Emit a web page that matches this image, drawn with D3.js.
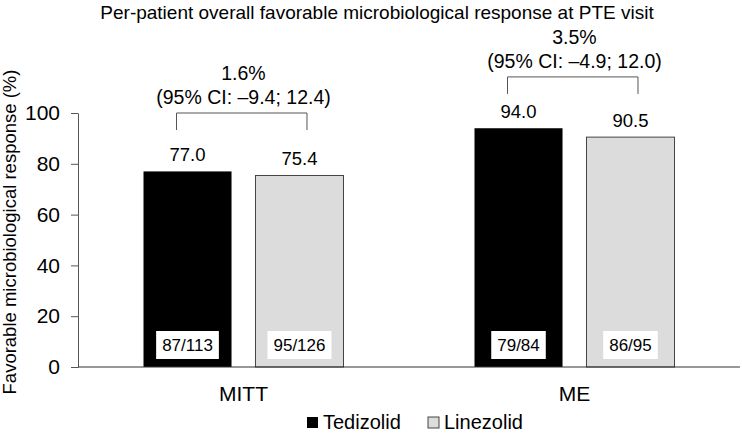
<!DOCTYPE html>
<html>
<head>
<meta charset="utf-8">
<script src="https://cdn.jsdelivr.net/npm/d3@7"></script>
<style>
  html, body { margin: 0; padding: 0; background: #fff; }
  svg { display: block; font-family: "Liberation Sans", Arial, sans-serif; }
</style>
</head>
<body>
<svg id="chart" width="742" height="433"></svg>
<script>
// ---- data ----
const categories = ["MITT", "ME"];
const seriesNames = ["Tedizolid", "Linezolid"];
const tedizolidValues = [77.0, 94.0];
const linezolidValues = [75.4, 90.5];
const tedizolidCounts = ["87/113", "79/84"];
const linezolidCounts = ["95/126", "86/95"];
const differenceLabels = ["1.6%", "3.5%"];
const ciLabels = ["(95% CI: \u20139.4; 12.4)", "(95% CI: \u20134.9; 12.0)"];
const yTicks = [0, 20, 40, 60, 80, 100];
const title = "Per-patient overall favorable microbiological response at PTE visit";
const yTitle = "Favorable microbiological response (%)";

// ---- layout ----
const W = 742, H = 433;
const margin = { left: 78, right: 2, top: 113, bottom: 66 };
const colors = { Tedizolid: "#000000", Linezolid: "#dcdcdc" };
const bracketLevel = [100, 114.2]; // annotation heights in axis units
const bracketDrop = 17;
const groupW = 200;

const svg = d3.select("#chart");
const x0 = d3.scaleBand().domain(categories).range([margin.left, W - margin.right]);
const x1 = d3.scaleBand().domain(seriesNames).range([0, groupW]).paddingInner(0.214);
const y = d3.scaleLinear().domain([0, 100]).range([H - margin.bottom, margin.top]);

const groupOffset = (x0.bandwidth() - groupW) / 2;
const rows = categories.map((c, i) => ({
  cat: c, i,
  bars: [
    { s: "Tedizolid", v: tedizolidValues[i], n: tedizolidCounts[i] },
    { s: "Linezolid", v: linezolidValues[i], n: linezolidCounts[i] }
  ]
}));

// title
svg.append("text").attr("x", 377).attr("y", 19).attr("text-anchor", "middle")
  .attr("font-size", 19).attr("fill", "#000").text(title);

// y axis
const yAxis = svg.append("g").attr("transform", `translate(${margin.left},0)`)
  .call(d3.axisLeft(y).tickValues(yTicks).tickSize(7).tickPadding(11).tickSizeOuter(0));
yAxis.select(".domain").attr("stroke", "#555");
yAxis.selectAll(".tick line").attr("stroke", "#555");
yAxis.selectAll(".tick text").attr("font-size", 21).attr("fill", "#000")
  .attr("font-family", "Liberation Sans, Arial, sans-serif");

svg.append("text")
  .attr("transform", `translate(16,${(y(0) + y(100)) / 2 - 8}) rotate(-90)`)
  .attr("text-anchor", "middle").attr("font-size", 18.5).attr("fill", "#000")
  .text(yTitle);

// bars
const g = svg.selectAll(".grp").data(rows).join("g")
  .attr("transform", d => `translate(${x0(d.cat) + groupOffset},0)`);

g.selectAll("rect.bar").data(d => d.bars).join("rect").attr("class", "bar")
  .attr("x", d => x1(d.s)).attr("width", x1.bandwidth())
  .attr("y", d => y(d.v)).attr("height", d => y(0) - y(d.v))
  .attr("fill", d => colors[d.s])
  .attr("stroke", d => d.s === "Linezolid" ? "#444" : "none").attr("stroke-width", 1);

g.selectAll("text.val").data(d => d.bars).join("text").attr("class", "val")
  .attr("x", d => x1(d.s) + x1.bandwidth() / 2).attr("y", d => y(d.v) - 10)
  .attr("text-anchor", "middle").attr("font-size", 18.5).attr("fill", "#000")
  .text(d => d.v.toFixed(1));

// count boxes
g.each(function (d) {
  const gg = d3.select(this);
  d.bars.forEach(b => {
    const cx = x1(b.s) + x1.bandwidth() / 2;
    const t = gg.append("text").attr("x", cx).attr("y", y(0) - 16)
      .attr("text-anchor", "middle")
      .attr("font-size", 17).attr("fill", "#000").text(b.n);
    const bb = t.node().getBBox();
    gg.insert("rect", () => t.node())
      .attr("x", cx - bb.width / 2 - 6).attr("width", bb.width + 12)
      .attr("y", y(0) - 36).attr("height", 28).attr("fill", "#fff");
  });
});

// baseline
svg.append("line").attr("x1", margin.left).attr("x2", W - margin.right)
  .attr("y1", y(0)).attr("y2", y(0)).attr("stroke", "#333").attr("stroke-width", 1.2);

// brackets and difference labels
g.each(function (d) {
  const gg = d3.select(this);
  const yb = y(bracketLevel[d.i]);
  const xl = x1("Tedizolid") + x1.bandwidth() / 2 - 11;
  const xr = x1("Linezolid") + x1.bandwidth() / 2 + 7.5;
  gg.append("path")
    .attr("d", `M${xl},${yb + bracketDrop}V${yb}H${xr}V${yb + bracketDrop}`)
    .attr("fill", "none").attr("stroke", "#555").attr("stroke-width", 1);
  gg.append("text").attr("x", groupW / 2).attr("y", yb - 33).attr("text-anchor", "middle")
    .attr("font-size", 19.5).attr("fill", "#000").text(differenceLabels[d.i]);
  gg.append("text").attr("x", groupW / 2).attr("y", yb - 9).attr("text-anchor", "middle")
    .attr("font-size", 19.5).attr("fill", "#000").text(ciLabels[d.i]);
});

// category labels
svg.selectAll("text.cat").data(categories).join("text").attr("class", "cat")
  .attr("x", d => x0(d) + x0.bandwidth() / 2).attr("y", 401)
  .attr("text-anchor", "middle").attr("font-size", 21).attr("fill", "#000").text(d => d);

// legend
const legend = svg.append("g");
const legX = [307, 428];
seriesNames.forEach((s, i) => {
  legend.append("rect").attr("x", legX[i]).attr("y", 417).attr("width", 11).attr("height", 11)
    .attr("fill", colors[s]).attr("stroke", s === "Linezolid" ? "#444" : "none");
  legend.append("text").attr("x", legX[i] + 16).attr("y", 428.5)
    .attr("font-size", 20).attr("fill", "#000").text(s);
});
</script>
</body>
</html>
